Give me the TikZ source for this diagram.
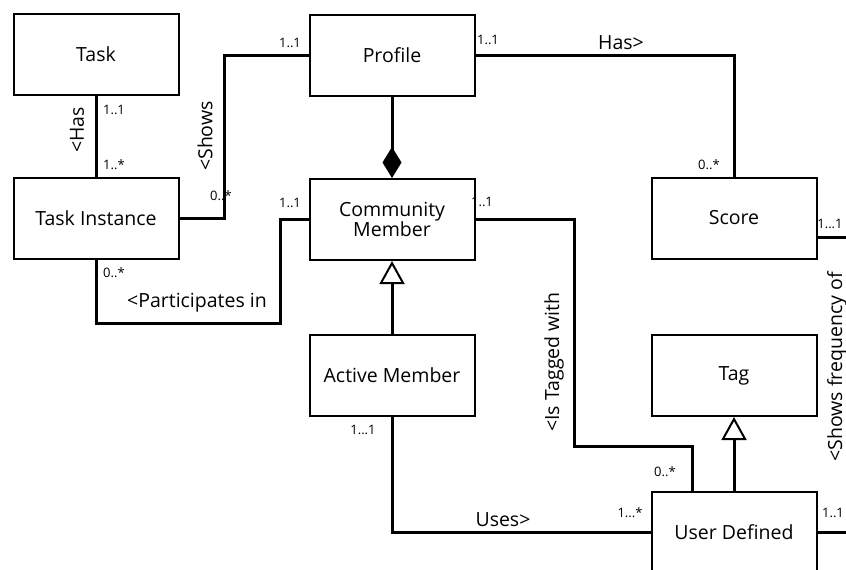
\documentclass[tikz,border=0pt]{standalone}
\usepackage{fontspec}
\setmainfont{Open Sans}
\usepackage{tikz}
\usetikzlibrary{calc,arrows.meta}
\newcommand{\boxfont}{\fontsize{19.5}{20}\selectfont}
\newcommand{\relfont}{\fontsize{19.5}{21}\selectfont}
\newcommand{\multfont}{\fontsize{13}{15}\selectfont}
\tikzset{
  cls/.style={draw=black, line width=2pt, minimum width=165pt, minimum height=81pt, inner sep=0pt, font=\boxfont, align=center},
  assoc/.style={draw=black, line width=3pt},
  gen/.style={assoc, -{Triangle[open, length=23pt, width=25pt, line width=2pt]}},
  comp/.style={assoc, -{Diamond[length=31pt, width=19pt]}},
  mult/.style={font=\multfont, inner sep=0pt},
  rel/.style={font=\relfont, inner sep=0pt},
}
\begin{document}
\begin{tikzpicture}[x=1pt,y=-1pt]
  \fill[white] (0,0) rectangle (846,570);
  \useasboundingbox (0,0) rectangle (846,570);
  \clip (0,0) rectangle (846,570);

  \node[cls] (task) at (96,54) {Task};
  \node[cls] (taskinst) at (96,218) {Task Instance};
  \node[cls] (profile) at (392,55.5) {Profile};
  \node[cls] (community) at (392,219.5) {Community\\Member};
  \node[cls] (active) at (392,375.5) {Active Member};
  \node[cls] (score) at (734,218) {Score};
  \node[cls] (tag) at (734,375.5) {Tag};
  \node[cls] (userdef) at (734,532) {User Defined};

  \draw[assoc] (task) -- (taskinst);
  \draw[assoc] (profile.west) -- ++(-84,0) |- (taskinst.east);
  \draw[assoc] (profile.east) -| (score.north);
  \draw[comp] (profile.south) -- (community.north);
  \draw[assoc] (taskinst.south) -- ++(0,64) -| ($(community.west)+(-28,0)$) -- (community.west);
  \draw[assoc] (community.east) -- ++(99,0) |- ($(userdef.north)+(-42,-44)$) -- ($(userdef.north)+(-42,0)$);
  \draw[gen] (active.north) -- (community.south);
  \draw[assoc] (active.south) |- (userdef.west);
  \draw[gen] (userdef.north) -- (tag.south);
  \draw[assoc] (userdef.east) -- ++(60,0) |- ($(score.east)+(0,19)$);

  % multiplicities
  \node[mult] (m1) at (114,110) {1..1};
  \node[mult] (m2) at (114,165) {1..*};
  \node[mult] (m3) at (290,43) {1..1};
  \node[mult] (m4) at (221,196) {0..*};
  \node[mult] (m5) at (488,40) {1..1};
  \node[mult] (m6) at (709,165) {0..*};
  \node[mult] (m7) at (290,203) {1..1};
  \node[mult] (m8) at (114,273) {0..*};
  \node[mult] (m9) at (482,202) {1..1};
  \node[mult] (m10) at (665,472) {0..*};
  \node[mult] (m11) at (363,430) {1...1};
  \node[mult] (m12) at (630,513) {1...*};
  \node[mult] (m13) at (833,513) {1..1};
  \node[mult] (m14) at (830,224) {1...1};

  % association names
  \node[rel, rotate=90] (has) at (77,130) {<Has};
  \node[rel, rotate=90] (shows) at (205,136) {<Shows};
  \node[rel] (hasr) at (621,43) {Has>};
  \node[rel] (part) at (197,303) {<Participates in};
  \node[rel, rotate=90] (tagged) at (554,362) {<Is Tagged with};
  \node[rel] (uses) at (503,520) {Uses>};
  \node[rel, rotate=90] (freq) at (837,367) {<Shows frequency of};
\end{tikzpicture}
\end{document}
